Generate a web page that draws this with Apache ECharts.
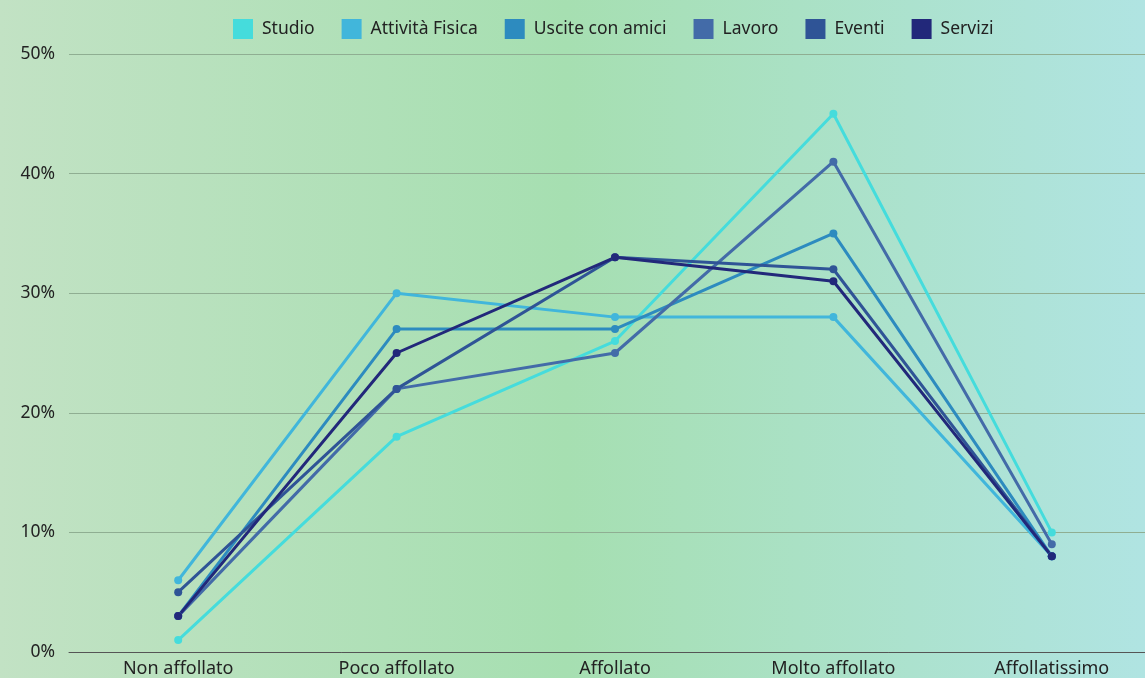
<!doctype html>
<html lang="it">
  <head>
    <meta charset="utf-8">
    <title>Affollamento</title>
    <script src="https://cdn.jsdelivr.net/npm/echarts@6.0.0/dist/echarts.min.js"></script>
    <style>
      html, body {
        width: 100%;
        height: 100%;
        margin: 0;
        overflow: hidden;
      }

      #chart {
        width: 1180px;
        height: 678px;
      }
    </style>
  </head>
  <body>
    <div id="chart"></div>
    <script>
      const categories = ['Non affollato', 'Poco affollato', 'Affollato', 'Molto affollato', 'Affollatissimo'];

      const studio = [1, 18, 26, 45, 10];
      const attivitaFisica = [6, 30, 28, 28, 8];
      const usciteConAmici = [3, 27, 27, 35, 8];
      const lavoro = [3, 22, 25, 41, 9];
      const eventi = [5, 22, 33, 32, 8];
      const servizi = [3, 25, 33, 31, 8];

      const seriesNames = ['Studio', 'Attività Fisica', 'Uscite con amici', 'Lavoro', 'Eventi', 'Servizi'];
      const seriesData = [studio, attivitaFisica, usciteConAmici, lavoro, eventi, servizi];
      const colors = ['#45dcdc', '#41b6db', '#2d8bbf', '#436ba8', '#2f5496', '#22287a'];

      let chart = echarts.init(document.getElementById('chart'), null, {renderer: 'canvas'});

      let option = {
        animation: false,
        backgroundColor: new echarts.graphic.LinearGradient(0, 0, 1, 0, [
          { offset: 0, color: '#c2e2c4' },
          { offset: 0.48, color: '#a6dfb1' },
          { offset: 0.97, color: '#b0e4e2' },
          { offset: 1, color: '#b0e4e2' }
        ]),
        color: colors,
        textStyle: {
          fontFamily: 'Noto Sans'
        },
        legend: {
          top: 14,
          left: 228,
          itemWidth: 20,
          itemHeight: 20,
          itemGap: 27,
          icon: 'rect',
          textStyle: {
            fontSize: 17.5,
            color: '#222',
            padding: [0, 0, 0, 4]
          },
          data: seriesNames
        },
        grid: {
          left: 69,
          top: 54,
          bottom: 26,
          right: 19,
          containLabel: false
        },
        xAxis: {
          type: 'category',
          data: categories,
          axisLine: {
            lineStyle: { color: '#555', width: 1 }
          },
          axisTick: { show: false },
          axisLabel: {
            fontSize: 18,
            color: '#222',
            margin: 8
          }
        },
        yAxis: {
          type: 'value',
          min: 0,
          max: 50,
          interval: 10,
          axisLabel: {
            fontSize: 17.5,
            color: '#222',
            margin: 14,
            formatter: '{value}%'
          },
          splitLine: {
            lineStyle: { color: '#8fae92', width: 1 }
          }
        },
        series: seriesNames.map((name, i) => ({
          name: name,
          type: 'line',
          data: seriesData[i],
          symbol: 'circle',
          symbolSize: 8,
          lineStyle: { width: 3 }
        }))
      };

      chart.setOption(option);
    </script>
  </body>
</html>
